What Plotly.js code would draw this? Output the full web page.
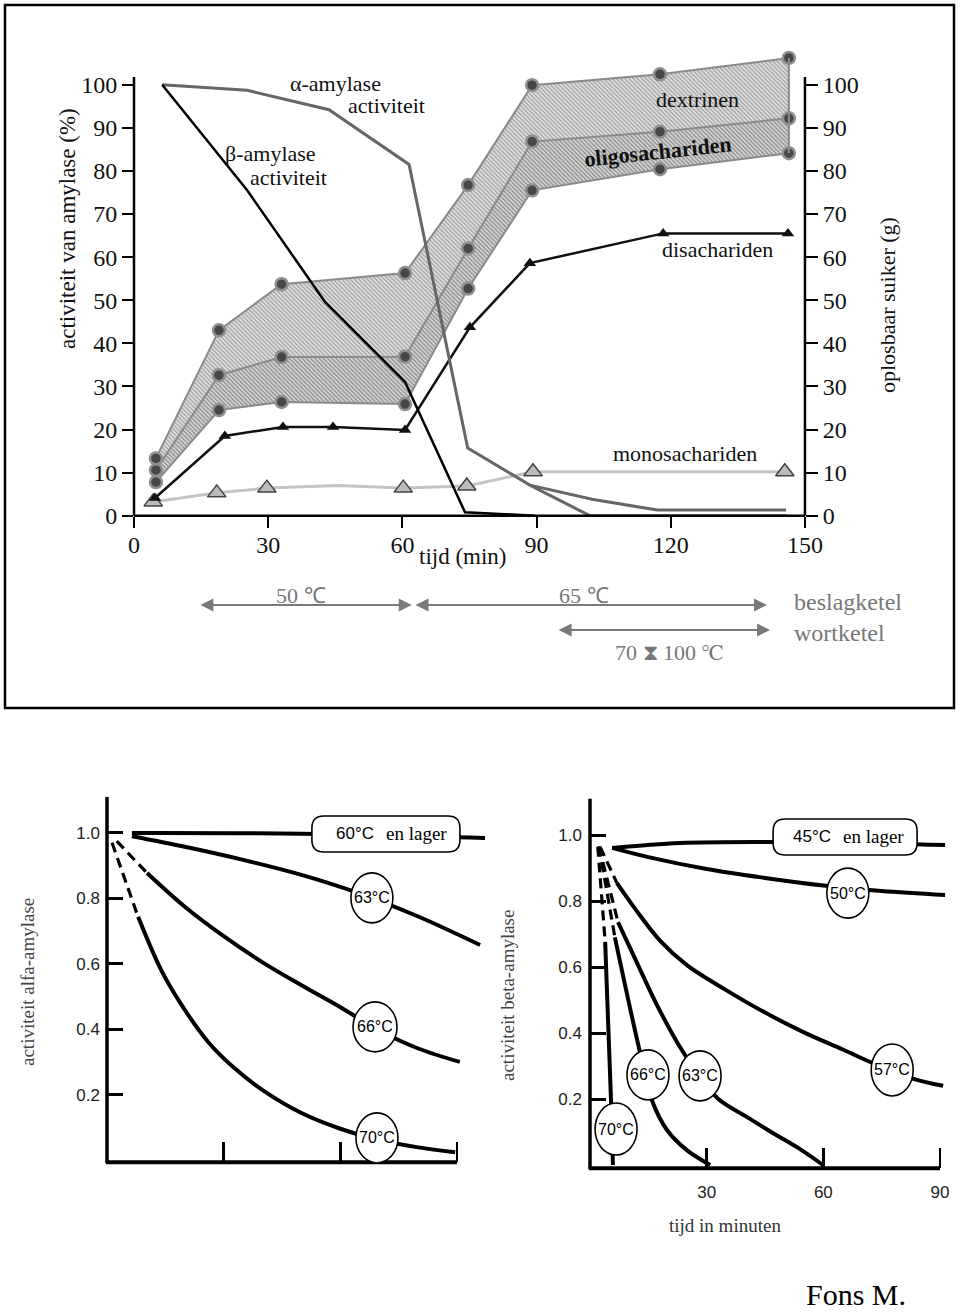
<!DOCTYPE html>
<html><head><meta charset="utf-8">
<script src="https://cdn.plot.ly/plotly-3.0.1.min.js"></script>
<style>html,body{margin:0;padding:0;background:#fff}#chart{width:960px;height:1315px}</style>
</head><body><div id="chart"></div>
<script>
// ================= DATA =================
// Top chart: sugars (g) during mashing, time in minutes
const tSugar     = [4.9, 19.0, 33.0, 60.6, 74.7, 89.0, 117.6, 146.4];
const dextrinTop = [13.3, 43.0, 53.7, 56.3, 76.7, 99.9, 102.4, 106.2];
const oligoTop   = [10.6, 32.6, 36.8, 36.9, 62.0, 86.8, 89.1, 92.2];
const oligoLow   = [7.8, 24.5, 26.4, 25.9, 52.7, 75.5, 80.4, 84.1];
const tDi        = [4.7, 20.3, 33.3, 44.5, 60.6, 75.1, 88.5, 118.3, 146.2];
const diSugar    = [4.1, 18.5, 20.6, 20.6, 19.9, 43.7, 58.6, 65.5, 65.5];
const tMonoLine  = [4.3, 18.5, 29.7, 45.6, 60.2, 74.4, 89.2, 145.5];
const monoLine   = [3.2, 5.3, 6.4, 7.0, 6.4, 6.9, 10.2, 10.2];
const tMonoPts   = [4.3, 18.5, 29.7, 60.2, 74.4, 89.2, 145.5];
const monoPts    = [3.2, 5.3, 6.4, 6.4, 6.9, 10.2, 10.2];
// Top chart: amylase activity (%)
const tAlpha     = [6.3, 25.3, 43.6, 61.5, 74.6, 88.5, 101.9, 146.0];
const alphaAct   = [100, 98.7, 94.2, 81.5, 15.7, 7.1, 0, 0];
const tAlphaTail = [88.5, 102.4, 117.0, 145.8];
const alphaTail  = [7.1, 3.8, 1.3, 1.3];
const tBeta      = [6.3, 25.3, 42.7, 60.6, 74.0, 89.6];
const betaAct    = [100, 75.5, 49.6, 31.0, 0.8, 0];
const topXTicks  = [0, 30, 60, 90, 120, 150];
const topYTicks  = [0, 10, 20, 30, 40, 50, 60, 70, 80, 90, 100];
// Temperature phases (min)
const phase50    = [14.5, 62.1];
const phase65    = [62.6, 141.5];
const phaseWort  = [94.6, 142.2];

// Bottom-left: alpha-amylase activity vs time (min)
const a60T = [6.4, 50, 97.2];              const a60 = [1.0, 0.998, 0.985];
const a63T = [6.4, 20, 35, 50, 65, 80, 95.9];
const a63  = [0.99, 0.958, 0.918, 0.872, 0.815, 0.745, 0.658];
const a66DashT = [2.5, 10.3];              const a66Dash = [0.975, 0.878];
const a66T = [10.3, 20, 30, 40, 50, 60, 70, 80, 90.7];
const a66  = [0.878, 0.775, 0.685, 0.605, 0.535, 0.468, 0.397, 0.342, 0.301];
const a70DashT = [1.3, 8.0];               const a70Dash = [0.97, 0.744];
const a70T = [8.0, 14, 20, 26, 32, 40, 50, 60, 70, 80, 89.5];
const a70  = [0.744, 0.58, 0.46, 0.362, 0.29, 0.215, 0.145, 0.097, 0.063, 0.04, 0.025];
// Bottom-right: beta-amylase activity vs time (min)
const b45T = [5.7, 23.1, 46.3, 91.3];      const b45 = [0.961, 0.976, 0.979, 0.970];
const b50T = [5.7, 15, 30, 45, 60, 75, 91.3];
const b50  = [0.961, 0.933, 0.897, 0.87, 0.847, 0.83, 0.818];
const b57DashT = [2.6, 6.9];               const b57Dash = [0.964, 0.855];
const b57T = [6.9, 12, 18, 25, 35, 45, 55, 65, 72.5, 83.0, 90.8];
const b57  = [0.855, 0.77, 0.68, 0.605, 0.53, 0.462, 0.402, 0.35, 0.31, 0.262, 0.24];
const b63DashT = [2.3, 7.2];               const b63Dash = [0.965, 0.736];
const b63T = [7.2, 12, 17, 23, 28, 33, 40, 47, 54, 59.9];
const b63  = [0.736, 0.615, 0.49, 0.36, 0.272, 0.2, 0.148, 0.097, 0.048, 0];
const b66DashT = [2.3, 6.4];               const b66Dash = [0.965, 0.69];
const b66T = [6.4, 12.3, 15.9, 19.8, 24.9, 30.9];
const b66  = [0.69, 0.37, 0.197, 0.106, 0.045, 0];
const b70DashT = [2.0, 3.9];               const b70Dash = [0.965, 0.676];
const b70T = [3.9, 5.4, 5.9];              const b70 = [0.676, 0.197, 0];
const botYTicks = [0.2, 0.4, 0.6, 0.8, 1.0];
const botYText  = ['0.2', '0.4', '0.6', '0.8', '1.0'];
const botXTicks = [30, 60, 90];

// ================= LAYOUT HELPERS =================
const W = 960, H = 1315;
const px = v => v / W, py = v => 1 - v / H;
const TOP = {x0: 134, sx: 4.473, y0: 515.7, sy: 4.31, xr: [0, 150], yr: [0, 108]};
const BL  = {x0: 107, sx: 3.89, y0: 1160.5, sy: 327.5, xr: [0, 98], yr: [-0.005, 1.115]};
const BR  = {x0: 590, sx: 3.889, y0: 1165, sy: 330, xr: [0, 92], yr: [-0.01, 1.115]};
const xdom = f => [px(f.x0 + f.sx * f.xr[0]), px(f.x0 + f.sx * f.xr[1])];
const ydom = f => [py(f.y0 - f.sy * f.yr[0]), py(f.y0 - f.sy * f.yr[1])];
const X = (f, t) => px(f.x0 + f.sx * t);
const Y = (f, v) => py(f.y0 - f.sy * v);

const SERIF = 'Liberation Serif, Times New Roman, serif';
const SANS = 'Liberation Sans, Arial, sans-serif';

function seg(x0, y0, x1, y1, w) {
  return {type: 'line', xref: 'paper', yref: 'paper', x0, y0, x1, y1,
          line: {color: '#000', width: w}, layer: 'above'};
}
function ellipse(xr, yr, t, v, rx, ry) {
  return {type: 'circle', xref: xr, yref: yr, xsizemode: 'pixel', ysizemode: 'pixel',
          xanchor: t, yanchor: v, x0: -rx, x1: rx, y0: -ry, y1: ry,
          fillcolor: '#fff', line: {color: '#000', width: 1.6}, layer: 'above'};
}
function rbox(xr, yr, t, v, w, h, r) {
  const a = w / 2, b = h / 2;
  const path = `M ${-a + r},${-b} L ${a - r},${-b} Q ${a},${-b} ${a},${-b + r} L ${a},${b - r} Q ${a},${b} ${a - r},${b} ` +
               `L ${-a + r},${b} Q ${-a},${b} ${-a},${b - r} L ${-a},${-b + r} Q ${-a},${-b} ${-a + r},${-b} Z`;
  return {type: 'path', xref: xr, yref: yr, xsizemode: 'pixel', ysizemode: 'pixel',
          xanchor: t, yanchor: v, path, fillcolor: '#fff', line: {color: '#000', width: 1.6}, layer: 'above'};
}
function txt(x, y, text, o) {
  o = o || {};
  return {xref: 'paper', yref: 'paper', x: px(x), y: py(y), text, showarrow: false,
          xanchor: 'center', yanchor: 'middle', textangle: o.angle || 0,
          font: {family: o.family || SERIF, size: o.size || 22, color: o.color || '#111', weight: o.weight || 'normal'}};
}
function dtxt(xr, yr, x, y, text, o) {
  o = o || {};
  return {xref: xr, yref: yr, x, y, text, showarrow: false, xanchor: 'center', yanchor: 'middle',
          xshift: o.dx || 0, yshift: o.dy || 0,
          font: {family: o.family || SANS, size: o.size || 16, color: '#000'}};
}
function arrow(range, yPix) {
  return {xref: 'x', yref: 'paper', axref: 'x', ayref: 'paper', x: range[1], ax: range[0],
          y: py(yPix), ay: py(yPix), text: '', showarrow: true, arrowside: 'end+start',
          arrowhead: 2, arrowsize: 1.3, arrowwidth: 2, arrowcolor: '#7a7a7a', standoff: 0, startstandoff: 0};
}

// ================= TRACES =================
const bandLine = {color: '#8a8a8a', width: 2};
const bandMarker = {symbol: 'circle', size: 12, color: '#474747', line: {color: '#909090', width: 2.5}};
const traces = [
  {x: tSugar, y: oligoLow, xaxis: 'x', yaxis: 'y', mode: 'lines+markers', line: bandLine, marker: bandMarker, name: 'oligo laag'},
  {x: tSugar, y: oligoTop, xaxis: 'x', yaxis: 'y', mode: 'lines+markers', line: bandLine, marker: bandMarker, name: 'oligosachariden',
   fill: 'tonexty', fillpattern: {shape: '\\', bgcolor: '#d4d4d4', fgcolor: '#7e7e7e', size: 3, solidity: 0.35}},
  {x: tSugar, y: dextrinTop, xaxis: 'x', yaxis: 'y', mode: 'lines+markers', line: bandLine, marker: bandMarker, name: 'dextrinen',
   fill: 'tonexty', fillpattern: {shape: '\\', bgcolor: '#dedede', fgcolor: '#8c8c8c', size: 3, solidity: 0.3}},
  {x: [tSugar[tSugar.length - 1], tSugar[tSugar.length - 1]], y: [oligoLow[oligoLow.length - 1], dextrinTop[dextrinTop.length - 1]],
   xaxis: 'x', yaxis: 'y', mode: 'lines', line: bandLine, name: 'rand'},
  {x: tMonoLine, y: monoLine, xaxis: 'x', yaxis: 'y', mode: 'lines', line: {color: '#c4c4c4', width: 3}, name: 'mono'},
  {x: tMonoPts, y: monoPts, xaxis: 'x', yaxis: 'y', mode: 'markers', name: 'monosachariden',
   marker: {symbol: 'triangle-up', size: 16, color: '#bbbbbb', line: {color: '#444', width: 1.5}}},
  {x: tDi, y: diSugar, xaxis: 'x', yaxis: 'y', mode: 'lines+markers', name: 'disachariden',
   line: {color: '#111', width: 2.5}, marker: {symbol: 'triangle-up', size: 11, color: '#111'}},
  {x: tAlphaTail, y: alphaTail, xaxis: 'x', yaxis: 'y2', mode: 'lines', line: {color: '#666', width: 3}, name: 'alpha tail'},
  {x: tAlpha, y: alphaAct, xaxis: 'x', yaxis: 'y2', mode: 'lines', line: {color: '#666', width: 3}, name: 'α-amylase'},
  {x: tBeta, y: betaAct, xaxis: 'x', yaxis: 'y2', mode: 'lines', line: {color: '#000', width: 2.5}, name: 'β-amylase'}
];
function solid(x, y, xa, ya, w) {
  return {x, y, xaxis: xa, yaxis: ya, mode: 'lines', line: {color: '#000', width: w || 4, shape: 'spline', smoothing: 1}};
}
function dashed(x, y, xa, ya) {
  return {x, y, xaxis: xa, yaxis: ya, mode: 'lines', line: {color: '#000', width: 3.2, dash: '10px,6px'}};
}
traces.push(
  solid(a60T, a60, 'x3', 'y3'), solid(a63T, a63, 'x3', 'y3'),
  dashed(a66DashT, a66Dash, 'x3', 'y3'), solid(a66T, a66, 'x3', 'y3'),
  dashed(a70DashT, a70Dash, 'x3', 'y3'), solid(a70T, a70, 'x3', 'y3'),
  solid(b45T, b45, 'x4', 'y4'), solid(b50T, b50, 'x4', 'y4'),
  dashed(b57DashT, b57Dash, 'x4', 'y4'), solid(b57T, b57, 'x4', 'y4'),
  dashed(b63DashT, b63Dash, 'x4', 'y4'), solid(b63T, b63, 'x4', 'y4'),
  dashed(b66DashT, b66Dash, 'x4', 'y4'), solid(b66T, b66, 'x4', 'y4'),
  dashed(b70DashT, b70Dash, 'x4', 'y4'), solid(b70T, b70, 'x4', 'y4')
);

// ================= AXES =================
const base = {showgrid: false, zeroline: false, showline: false, tickcolor: '#000', fixedrange: true};
const layout = {
  width: W, height: H, margin: {l: 0, r: 0, t: 0, b: 0}, showlegend: false,
  paper_bgcolor: '#fff', plot_bgcolor: 'rgba(0,0,0,0)', font: {family: SERIF},
  xaxis: Object.assign({}, base, {domain: xdom(TOP), range: TOP.xr, anchor: 'y', tickvals: topXTicks,
    ticks: 'outside', ticklen: 11, tickwidth: 2, ticklabelstandoff: -4, tickfont: {family: SERIF, size: 24, color: '#111'}}),
  yaxis: Object.assign({}, base, {domain: ydom(TOP), range: TOP.yr, anchor: 'x', side: 'right', tickvals: topYTicks,
    ticks: 'outside', ticklen: 12, tickwidth: 2, tickfont: {family: SERIF, size: 24, color: '#111'}}),
  yaxis2: Object.assign({}, base, {overlaying: 'y', range: TOP.yr, anchor: 'x', side: 'left', tickvals: topYTicks,
    ticks: 'outside', ticklen: 11, tickwidth: 2, tickfont: {family: SERIF, size: 24, color: '#111'}}),
  xaxis3: Object.assign({}, base, {domain: xdom(BL), range: BL.xr, anchor: 'y3', tickvals: botXTicks,
    ticks: 'inside', ticklen: 20, tickwidth: 2.5, showticklabels: false}),
  yaxis3: Object.assign({}, base, {domain: ydom(BL), range: BL.yr, anchor: 'x3', tickvals: botYTicks, ticktext: botYText,
    ticks: 'inside', ticklen: 16, tickwidth: 3, ticklabelstandoff: 6, tickfont: {family: SANS, size: 17, color: '#222'}}),
  xaxis4: Object.assign({}, base, {domain: xdom(BR), range: BR.xr, anchor: 'y4', tickvals: botXTicks,
    ticks: 'inside', ticklen: 20, tickwidth: 2.5, ticklabelstandoff: 12, tickfont: {family: SANS, size: 17, color: '#222'}}),
  yaxis4: Object.assign({}, base, {domain: ydom(BR), range: BR.yr, anchor: 'x4', tickvals: botYTicks, ticktext: botYText,
    ticks: 'inside', ticklen: 16, tickwidth: 3, ticklabelstandoff: 7, tickfont: {family: SANS, size: 17, color: '#222'}}),
  shapes: [
    {type: 'rect', xref: 'paper', yref: 'paper', x0: px(5), x1: px(954), y0: py(708), y1: py(5),
     line: {color: '#000', width: 2.5}, fillcolor: 'rgba(0,0,0,0)'},
    // top chart axis lines
    seg(X(TOP, 0), Y(TOP, 0), X(TOP, 0), Y(TOP, 101.8), 2.5),
    seg(X(TOP, 150), Y(TOP, 0), X(TOP, 150), Y(TOP, 101.8), 2.5),
    seg(X(TOP, 0), Y(TOP, 0), X(TOP, 150), Y(TOP, 0), 2.5),
    // bottom-left axis lines
    seg(X(BL, 0), Y(BL, -0.008), X(BL, 0), Y(BL, 1.11), 3.5),
    seg(X(BL, -0.3), Y(BL, -0.005), X(BL, 90), Y(BL, -0.005), 4),
    // bottom-right axis lines
    seg(X(BR, 0), Y(BR, -0.012), X(BR, 0), Y(BR, 1.11), 3.5),
    seg(X(BR, -0.3), Y(BR, -0.01), X(BR, 90), Y(BR, -0.01), 4),
    // labels on bottom curves
    rbox('x3', 'y3', 71.7, 0.997, 148, 36, 12),
    ellipse('x3', 'y3', 68.1, 0.802, 21, 25),
    ellipse('x3', 'y3', 68.9, 0.408, 22, 25),
    ellipse('x3', 'y3', 69.4, 0.069, 21, 25),
    rbox('x4', 'y4', 65.6, 0.994, 144, 36, 12),
    ellipse('x4', 'y4', 66.3, 0.824, 21, 25),
    ellipse('x4', 'y4', 77.7, 0.288, 21, 26),
    ellipse('x4', 'y4', 14.9, 0.273, 21, 25),
    ellipse('x4', 'y4', 28.3, 0.270, 21, 25),
    ellipse('x4', 'y4', 6.7, 0.109, 21, 26)
  ],
  annotations: [
    txt(335, 83, 'α-amylase', {size: 22}),
    txt(386, 106, 'activiteit', {size: 22}),
    txt(270, 153, 'β-amylase', {size: 22}),
    txt(288, 177, 'activiteit', {size: 22}),
    txt(697, 100, 'dextrinen', {size: 22}),
    txt(658, 152, 'oligosachariden', {size: 22, weight: 'bold', angle: -6}),
    txt(717, 250, 'disachariden', {size: 22}),
    txt(685, 453, 'monosachariden', {size: 22}),
    txt(67, 229, 'activiteit van amylase (%)', {size: 23, angle: -90}),
    txt(887, 305, 'oplosbaar suiker (g)', {size: 22, angle: -90}),
    txt(463, 556, 'tijd (min)', {size: 23}),
    txt(301, 595, '50 ℃', {size: 22, color: '#777'}),
    txt(584, 595, '65 ℃', {size: 22, color: '#777'}),
    txt(848, 602, 'beslagketel', {size: 24, color: '#777'}),
    txt(839, 633, 'wortketel', {size: 24, color: '#777'}),
    txt(669, 652, '70 ⧗ 100 ℃', {size: 22, color: '#777'}),
    arrow(phase50, 605), arrow(phase65, 605), arrow(phaseWort, 630),
    // bottom charts
    txt(27, 982, 'activiteit alfa-amylase', {size: 19, angle: -90, color: '#444'}),
    txt(507, 995, 'activiteit beta-amylase', {size: 19, angle: -90, color: '#444'}),
    txt(725, 1225, 'tijd in minuten', {size: 19, color: '#333'}),
    txt(856, 1294, 'Fons M.', {size: 30, color: '#000'}),
    dtxt('x3', 'y3', 71.7, 0.997, '60°C', {dx: -31, size: 17}),
    dtxt('x3', 'y3', 71.7, 0.997, 'en lager', {dx: 31, size: 19, family: SERIF}),
    dtxt('x3', 'y3', 68.1, 0.802, '63°C'),
    dtxt('x3', 'y3', 68.9, 0.408, '66°C'),
    dtxt('x3', 'y3', 69.4, 0.069, '70°C'),
    dtxt('x4', 'y4', 65.6, 0.994, '45°C', {dx: -33, size: 17}),
    dtxt('x4', 'y4', 65.6, 0.994, 'en lager', {dx: 28, size: 19, family: SERIF}),
    dtxt('x4', 'y4', 66.3, 0.824, '50°C'),
    dtxt('x4', 'y4', 77.7, 0.288, '57°C'),
    dtxt('x4', 'y4', 14.9, 0.273, '66°C'),
    dtxt('x4', 'y4', 28.3, 0.270, '63°C'),
    dtxt('x4', 'y4', 6.7, 0.109, '70°C')
  ]
};
Plotly.newPlot('chart', traces, layout, {staticPlot: true, displayModeBar: false});
</script></body></html>
